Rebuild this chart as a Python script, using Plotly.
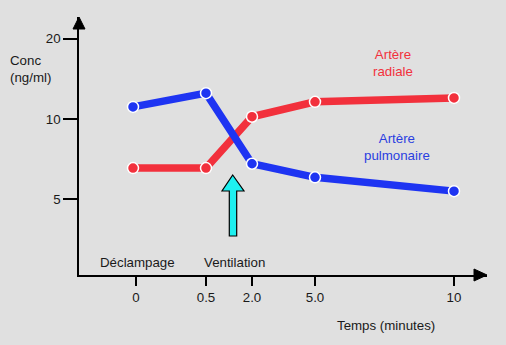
import plotly.graph_objects as go

# ---- data ----
time_labels = ["0", "0.5", "2.0", "5.0", "10"]
# positions of the (non-uniform, broken) time axis, in axis units
time_axis_pos = [54, 127, 173, 236, 375]
pulmonaire = [11.1, 12.5, 6.8, 6.05, 5.37]   # Artère pulmonaire (blue)
radiale = [6.55, 6.55, 10.2, 11.6, 12.0]     # Artère radiale (red)
y_ticks = [5, 10, 20]

# ---- layout geometry (pixels) ----
W, H = 506, 345
L, R, T, B = 79, 19, 17, 70
PW, PH = W - L - R, H - T - B

def px(x):
    return (x - L) / PW

def py(y):
    return (H - B - y) / PH

RED = "#f2303c"
BLUE = "#1e34f2"
FONT = "Liberation Sans, Arial, sans-serif"
FS = 13.3

fig = go.Figure()
fig.add_trace(go.Scatter(
    x=time_axis_pos, y=radiale, mode="lines+markers",
    line=dict(color=RED, width=7.5),
    marker=dict(size=11, color=RED, line=dict(color="white", width=1.5)),
    showlegend=False, cliponaxis=False))
fig.add_trace(go.Scatter(
    x=time_axis_pos, y=pulmonaire, mode="lines+markers",
    line=dict(color=BLUE, width=7.5),
    marker=dict(size=11, color=BLUE, line=dict(color="white", width=1.5)),
    showlegend=False, cliponaxis=False))

shapes = []
# y-axis arrow head
shapes.append(dict(type="path", xref="paper", yref="paper",
                   path=f"M {px(79)},{py(17)} L {px(73)},{py(29)} L {px(85)},{py(29)} Z",
                   fillcolor="black", line=dict(color="black", width=1)))
# x-axis arrow head
shapes.append(dict(type="path", xref="paper", yref="paper",
                   path=f"M {px(487)},{py(275)} L {px(474)},{py(269)} L {px(474)},{py(281)} Z",
                   fillcolor="black", line=dict(color="black", width=1)))
# cyan ventilation arrow
pts = [(232.7, 175), (244, 191), (236.7, 191), (236.7, 236), (229.3, 236), (229.3, 191), (222, 191)]
path = "M " + " L ".join(f"{px(a)},{py(b)}" for a, b in pts) + " Z"
shapes.append(dict(type="path", xref="paper", yref="paper", path=path,
                   fillcolor="#1ef0f0", line=dict(color="black", width=1.2)))

annotations = []
def text(x, y, s, color="#1a1a1a", xanchor="center", align="center", size=FS):
    annotations.append(dict(x=px(x), y=py(y), xref="paper", yref="paper", text=s,
                            showarrow=False, xanchor=xanchor, yanchor="middle",
                            align=align, font=dict(family=FONT, size=size, color=color)))

text(8, 69, "Conc<br>(ng/ml)", xanchor="left", align="left")
text(386, 325, "Temps (minutes)")
text(137, 262, "Déclampage")
text(234, 262, "Ventilation")
text(393, 63, "Artère<br>radiale", color=RED)
text(397, 147, "Artère<br>pulmonaire", color="#2a3ee0")

fig.update_layout(
    width=W, height=H,
    margin=dict(l=L, r=R, t=T, b=B, pad=0),
    paper_bgcolor="#e0e0e0", plot_bgcolor="#e0e0e0",
    font=dict(family=FONT, size=FS, color="#1a1a1a"),
    shapes=shapes, annotations=annotations,
    xaxis=dict(range=[0, PW], tickvals=[57, 127, 173, 236, 375], ticktext=time_labels,
               showgrid=False, zeroline=False, showline=True, linecolor="black", linewidth=1.5,
               ticks="outside", ticklen=9, tickwidth=1.5, tickcolor="black", fixedrange=True),
    yaxis=dict(type="log", range=[0.416, 1.382], tickvals=y_ticks,
               ticktext=[str(v) for v in y_ticks],
               showgrid=False, zeroline=False, showline=True, linecolor="black", linewidth=1.5,
               ticks="outside", ticklen=14, tickwidth=1.5, tickcolor="black", fixedrange=True),
)

fig.write_html("out.html")
